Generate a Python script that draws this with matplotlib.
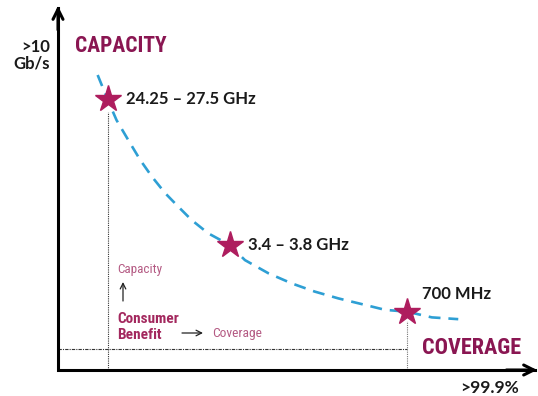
import matplotlib
matplotlib.use("Agg")
import matplotlib.pyplot as plt
from matplotlib import font_manager

names = {f.name for f in font_manager.fontManager.ttflist}
NARROW = "Roboto"
for cand in ["Liberation Sans Narrow", "Roboto Condensed", "Open Sans Condensed", "Roboto"]:
    if cand in names:
        NARROW = cand
        break

# ---- data (coverage %, capacity index) ----
band_labels = ["24.25 – 27.5 GHz", "3.4 – 3.8 GHz", "700 MHz"]
band_coverage = [10.5, 36.4, 73.9]
band_capacity = [75.6, 34.9, 16.3]

curve_coverage = [8.4, 10.5, 12.4, 14.9, 17.4, 19.9, 22.7, 25.5, 28.3, 31.8,
                  36.4, 39.6, 44.6, 49.5, 54.4, 59.4, 65.0, 69.3, 73.9, 79.2, 84.8]
curve_capacity = [82.4, 75.6, 69.8, 64.2, 58.7, 54.0, 49.4, 45.6, 41.9, 38.2,
                  34.9, 30.7, 27.0, 24.2, 21.9, 20.0, 18.2, 16.8, 16.3, 14.7, 14.2]

y_axis_label = ">10\nGb/s"
x_axis_label = ">99.9%"

DARK = "#8A1652"
STAR = "#AE1D5E"
PINK = "#B45A83"
MID = "#A3285E"
BLUE = "#2E9FD4"

W, H = 538, 396
fig = plt.figure(figsize=(W / 100, H / 100), dpi=100)
ax = fig.add_axes([58 / W, (H - 370) / H, 472 / W, 358 / H])
ax.set_xlim(0, 100)
ax.set_ylim(0, 100)
ax.axis("off")

# dotted guide lines
ax.plot([band_coverage[0], band_coverage[0]], [0, band_capacity[0] - 3.5],
        color="#333333", lw=0.8, ls=(0, (1, 1)), zorder=1)
ax.plot([0, band_coverage[2]], [5.9, 5.9],
        color="#333333", lw=0.8, ls=(0, (3, 1, 1, 1)), zorder=1)
ax.plot([band_coverage[2], band_coverage[2]], [0, band_capacity[2] - 2.5],
        color="#777777", lw=0.8, ls=(0, (1, 1)), zorder=1)

# curve
ax.plot(curve_coverage, curve_capacity, color=BLUE, lw=1.9,
        dashes=(4.5, 3.0), zorder=2)

# stars
ax.plot(band_coverage, band_capacity, ls="none", marker="*", ms=20,
        color=STAR, mec=STAR, zorder=3)

# labels next to stars
offsets = [(13, 0), (13, 0), (11, 13)]
for lab, xx, yy, off in zip(band_labels, band_coverage, band_capacity, offsets):
    ax.annotate(lab, (xx, yy), xytext=off, textcoords="offset points",
                ha="left", va="center", fontsize=12, fontweight="bold",
                family=["Lato", "DejaVu Sans"], color="#1a1a1a")

# axes with arrows
ax.plot([0, 0, 101.0], [101.0, 0, 0], color="black", lw=2.2,
        solid_joinstyle="miter", clip_on=False, zorder=4)
ax.annotate("", xy=(0, 101.7), xytext=(0, 95), annotation_clip=False,
            arrowprops=dict(arrowstyle="->", lw=2.2, color="black",
                            mutation_scale=18, shrinkA=0, shrinkB=0))
ax.annotate("", xy=(101.5, 0), xytext=(95, 0), annotation_clip=False,
            arrowprops=dict(arrowstyle="->", lw=2.2, color="black",
                            mutation_scale=18, shrinkA=0, shrinkB=0))

def px(x, y):
    return ((x - 58) / 4.72, (370 - y) / 3.58)

ax.text(*px(50, 55), y_axis_label, ha="right", va="center", fontsize=12,
        fontweight="bold", family=["Lato", "DejaVu Sans"], color="#1a1a1a",
        linespacing=1.05, clip_on=False)
ax.text(*px(75, 46), "CAPACITY", ha="left", va="center", fontsize=15.5,
        fontweight="bold", family=[NARROW, "DejaVu Sans"], color=DARK)
ax.text(*px(422, 348), "COVERAGE", ha="left", va="center", fontsize=16,
        fontweight="bold", family=[NARROW, "DejaVu Sans"], color=DARK)
ax.text(*px(519, 388), x_axis_label, ha="right", va="center", fontsize=12.5,
        family=["Lato", "DejaVu Sans"], fontweight="bold", color="#1a1a1a",
        clip_on=False)

# consumer benefit inset
ax.text(*px(117, 269), "Capacity", ha="left", va="center", fontsize=9.5,
        family=[NARROW, "DejaVu Sans"], color=PINK)
ax.annotate("", xy=px(123, 282), xytext=px(123, 301),
            arrowprops=dict(arrowstyle="->", lw=0.9, color="#222222",
                            mutation_scale=10, shrinkA=0, shrinkB=0))
ax.text(*px(117, 327), "Consumer\nBenefit", ha="left", va="center",
        fontsize=11, fontweight="bold", family=[NARROW, "DejaVu Sans"],
        color=MID, linespacing=1.1)
ax.annotate("", xy=px(203, 333), xytext=px(182, 333),
            arrowprops=dict(arrowstyle="->", lw=0.9, color="#222222",
                            mutation_scale=10, shrinkA=0, shrinkB=0))
ax.text(*px(212, 333), "Coverage", ha="left", va="center", fontsize=9.7,
        family=[NARROW, "DejaVu Sans"], color=PINK)

fig.savefig("out.png", dpi=100, facecolor="white")
